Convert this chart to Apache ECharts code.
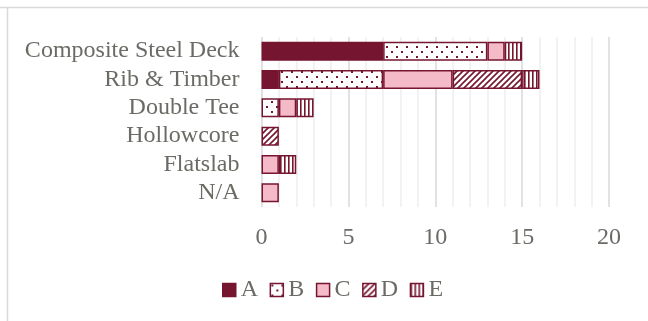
<!DOCTYPE html>
<html><head><meta charset="utf-8">
<script src="https://cdn.jsdelivr.net/npm/echarts@6/dist/echarts.min.js"></script>
<style>html,body{margin:0;padding:0;background:#fff}#c{width:648px;height:321px}</style>
</head><body><div id="c"></div>
<script>
const categories = ['Composite Steel Deck','Rib & Timber','Double Tee','Hollowcore','Flatslab','N/A'];
const seriesNames = ['A','B','C','D','E'];
const valA = [7,1,0,0,0,0];
const valB = [6,6,1,0,0,0];
const valC = [1,4,1,0,1,1];
const valD = [0,4,0,1,0,0];
const valE = [1,1,1,0,1,0];
const xTicks = [0,5,10,15,20];

const DARK = '#76152f';
const PINK = '#f4bac8';
const TXT = '#6b6b66';

function pat(kind){
  const c = document.createElement('canvas');
  const ctx = c.getContext('2d');
  if(kind==='dots'){
    c.width=10;c.height=10;
    ctx.fillStyle='#fff';ctx.fillRect(0,0,10,10);
    ctx.fillStyle=DARK;
    ctx.fillRect(1,1,2,2);ctx.fillRect(6,6,2,2);
  } else if(kind==='diag'){
    c.width=6;c.height=6;
    ctx.fillStyle='#fff';ctx.fillRect(0,0,6,6);
    ctx.strokeStyle=DARK;ctx.lineWidth=1.6;
    ctx.beginPath();ctx.moveTo(-1,7);ctx.lineTo(7,-1);ctx.moveTo(-4,4);ctx.lineTo(4,-4);ctx.moveTo(2,10);ctx.lineTo(10,2);ctx.stroke();
  } else if(kind==='vert'){
    c.width=4;c.height=4;
    ctx.fillStyle='#fff';ctx.fillRect(0,0,4,4);
    ctx.fillStyle=DARK;ctx.fillRect(0,0,1.6,4);
  }
  return {image:c, repeat:'repeat'};
}

const fills = [DARK, pat('dots'), PINK, pat('diag'), pat('vert')];
const vals = [valA,valB,valC,valD,valE];

const chart = echarts.init(document.getElementById('c'));
chart.setOption({
  animation:false,
  backgroundColor:'#fff',
  graphic:[
    {type:'line',shape:{x1:0,y1:7.5,x2:648,y2:7.5},style:{stroke:'#d9d9d9',lineWidth:1.5}},
    {type:'line',shape:{x1:7.5,y1:7.5,x2:7.5,y2:321},style:{stroke:'#d9d9d9',lineWidth:1.5}}
  ],
  grid:{left:261.5,right:39,top:37,bottom:114,containLabel:false},
  xAxis:{type:'value',min:0,max:20,interval:5,
    axisLine:{show:false},axisTick:{show:false},
    axisLabel:{color:TXT,fontFamily:'Liberation Serif',fontSize:24,margin:19,
      formatter:v=>xTicks.includes(v)?String(v):''},
    splitLine:{show:true,lineStyle:{color:'#d9d9d9',width:1.5}},
    minorTick:{show:false,splitNumber:5},
    minorSplitLine:{show:true,lineStyle:{color:'#eeeeee',width:1.5}}
  },
  yAxis:{type:'category',data:categories,inverse:true,
    axisLine:{show:false},axisTick:{show:false},
    axisLabel:{color:TXT,fontFamily:'Liberation Serif',fontSize:24,margin:22,interval:0}
  },
  legend:{top:273,left:217,itemWidth:13,itemHeight:13,itemGap:11.5,
    textStyle:{color:TXT,fontFamily:'Liberation Serif',fontSize:24,padding:[0,0,0,0]},
    data:seriesNames.map((n,i)=>({name:n,icon:'rect',itemStyle:{color:fills[i],borderColor:DARK,borderWidth:1.5}}))
  },
  series:seriesNames.map((n,i)=>({
    name:n,type:'bar',stack:'s',barWidth:19,
    data:vals[i].map(v=>v===0?null:v),
    itemStyle:{color:fills[i],borderColor:DARK,borderWidth:1.5}
  }))
});
</script></body></html>
